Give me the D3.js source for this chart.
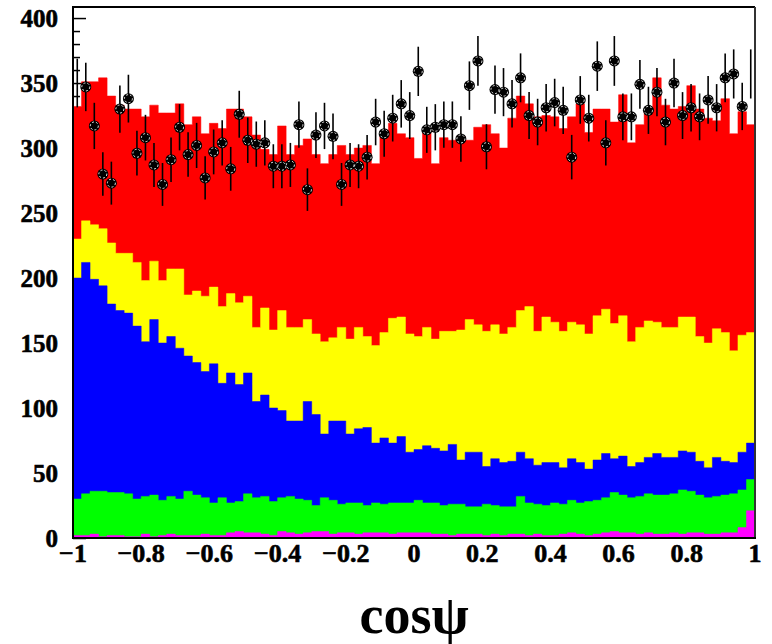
<!DOCTYPE html>
<html>
<head>
<meta charset="utf-8">
<script src="https://cdn.jsdelivr.net/npm/d3@7"></script>
<style>
  body { margin: 0; background: #fff; }
  text { font-family: "Liberation Serif", "DejaVu Serif", serif; font-weight: bold; fill: #000; }
</style>
</head>
<body>
<div id="chart"></div>
<script>
var w = 772;
var h = 644;
var frame = { left: 73, right: 755, top: 7, bottom: 538 };

// cosψ histogram, 80 bins from -1 to 1
var nBins = 80;
var xTicks = [-1, -0.8, -0.6, -0.4, -0.2, 0, 0.2, 0.4, 0.6, 0.8, 1];
var yTicks = [0, 50, 100, 150, 200, 250, 300, 350, 400];

// stacked histogram tops (each one includes the layers below it)
var redTop = [332, 351, 351, 354, 340, 333, 330, 330, 324, 333, 327, 327, 334, 318, 324, 311, 319, 315, 330, 330,
  324, 310, 299, 295, 317, 295, 302, 307, 295, 288, 295, 302, 295, 300, 302, 288, 312, 319, 311, 308,
  292, 314, 288, 308, 306, 309, 306, 316, 318, 311, 300, 323, 340, 334, 324, 325, 324, 315, 324, 334,
  312, 330, 330, 320, 341, 304, 318, 329, 354, 333, 330, 332, 348, 330, 323, 321, 338, 311, 328, 318];
var yellowTop = [230, 244, 241, 238, 227, 219, 219, 212, 198, 213, 198, 207, 207, 187, 190, 186, 193, 178, 188, 181,
  186, 162, 177, 160, 175, 162, 162, 168, 157, 151, 154, 162, 153, 162, 155, 148, 158, 169, 170, 157,
  155, 162, 153, 159, 159, 160, 168, 164, 159, 164, 157, 162, 175, 178, 159, 170, 166, 159, 166, 164,
  157, 171, 176, 165, 171, 151, 162, 167, 166, 162, 162, 170, 170, 155, 150, 161, 158, 144, 156, 158];
var blueTop = [200, 212, 199, 194, 180, 175, 173, 163, 151, 168, 150, 155, 146, 140, 135, 128, 134, 119, 127, 118,
  127, 105, 110, 100, 98, 90, 90, 105, 95, 80, 90, 90, 80, 84, 85, 73, 77, 73, 78, 66,
  68, 71, 69, 67, 72, 60, 66, 66, 55, 61, 58, 59, 66, 61, 56, 58, 58, 54, 61, 58,
  53, 60, 65, 61, 63, 55, 58, 62, 65, 62, 62, 67, 66, 59, 54, 62, 59, 58, 66, 73];
var greenTop = [30, 34, 36, 36, 35, 35, 34, 30, 32, 33, 29, 32, 30, 36, 33, 31, 27, 31, 27, 28,
  34, 31, 32, 28, 31, 32, 30, 29, 25, 31, 29, 26, 27, 27, 25, 27, 26, 27, 27, 27,
  29, 27, 27, 25, 26, 26, 24, 24, 26, 25, 24, 24, 32, 27, 26, 25, 27, 26, 29, 27,
  28, 29, 31, 35, 33, 31, 32, 34, 33, 33, 34, 37, 36, 33, 31, 32, 33, 34, 37, 45];
var magentaTop = [2, 2, 3, 1, 2, 2, 1, 1, 3, 1, 2, 3, 2, 2, 2, 3, 2, 2, 4, 5,
  4, 4, 3, 2, 5, 4, 3, 4, 5, 5, 3, 4, 4, 3, 4, 4, 4, 3, 4, 4,
  4, 4, 3, 3, 2, 3, 3, 3, 2, 3, 2, 3, 3, 2, 3, 2, 2, 3, 4, 3,
  2, 3, 4, 5, 4, 4, 3, 4, 3, 3, 4, 3, 4, 4, 3, 3, 4, 4, 8, 21];

// data points
var dataCounts = [350, 347, 317, 280, 273, 330, 338, 296, 308, 287, 272, 291, 316, 295, 302, 277, 297, 304, 284, 326,
  306, 303, 304, 286, 286, 287, 318, 268, 310, 317, 309, 272, 287, 286, 293, 320, 311, 323, 334, 325,
  359, 314, 316, 318, 318, 307, 348, 367, 301, 345, 343, 334, 354, 325, 320, 331, 335, 329, 293, 337,
  323, 363, 304, 367, 324, 324, 349, 329, 343, 320, 350, 325, 331, 324, 337, 331, 354, 357, 332, 357];

var layers = [
  { values: redTop, color: "#ff0000" },
  { values: yellowTop, color: "#ffff00" },
  { values: blueTop, color: "#0000ff" },
  { values: greenTop, color: "#00ff00" },
  { values: magentaTop, color: "#ff00ff" }
];

var svg = d3.select("#chart")
  .append("svg")
  .attr("width", w)
  .attr("height", h);

svg.append("rect").attr("width", w).attr("height", h).attr("fill", "#fff");

var x = d3.scaleLinear().domain([-1, 1]).range([frame.left, frame.right]);
var y = d3.scaleLinear().domain([0, 408.5]).range([frame.bottom, frame.top]);
var binW = 2 / nBins;

svg.append("defs").append("clipPath").attr("id", "frameClip")
  .append("rect")
  .attr("x", frame.left).attr("y", frame.top)
  .attr("width", frame.right - frame.left).attr("height", frame.bottom - frame.top);

// y axis ticks pointing into the frame (mostly hidden by the stack)
var yAxis = d3.axisRight(y)
  .tickValues(d3.range(0, 401, 10))
  .tickSize(7)
  .tickFormat("");
var yAxisG = svg.append("g")
  .attr("transform", "translate(" + frame.left + ",0)")
  .call(yAxis);
yAxisG.select(".domain").remove();
yAxisG.selectAll(".tick line")
  .attr("stroke", "#000")
  .attr("stroke-width", 1.5)
  .attr("x2", function (d) { return d % 50 === 0 ? 13 : 7; });

// stacked histogram
function stepData(vals) {
  var pts = vals.map(function (v, i) { return { x: -1 + i * binW, v: v }; });
  pts.push({ x: 1, v: vals[vals.length - 1] });
  return pts;
}

var area = d3.area()
  .curve(d3.curveStepAfter)
  .x(function (d) { return x(d.x); })
  .y0(y(0))
  .y1(function (d) { return y(d.v); });

svg.append("g")
  .attr("clip-path", "url(#frameClip)")
  .selectAll("path")
  .data(layers)
  .enter()
  .append("path")
  .attr("d", function (d) { return area(stepData(d.values)); })
  .attr("fill", function (d) { return d.color; })
  .attr("stroke", function (d) { return d.color; })
  .attr("stroke-width", 0.5);

// frame
svg.append("line")
  .attr("x1", frame.left).attr("x2", frame.right)
  .attr("y1", frame.top).attr("y2", frame.top)
  .attr("stroke", "#000").attr("stroke-width", 2);
svg.append("line")
  .attr("x1", frame.right).attr("x2", frame.right)
  .attr("y1", frame.top).attr("y2", frame.bottom)
  .attr("stroke", "#333").attr("stroke-width", 2);
svg.append("line")
  .attr("x1", frame.left).attr("x2", frame.left)
  .attr("y1", frame.top - 1).attr("y2", frame.bottom + 1)
  .attr("stroke", "#000").attr("stroke-width", 2);
svg.append("line")
  .attr("x1", frame.left - 1).attr("x2", frame.right + 1)
  .attr("y1", frame.bottom).attr("y2", frame.bottom)
  .attr("stroke", "#000").attr("stroke-width", 2);

// tick labels
svg.append("g")
  .selectAll("text")
  .data(yTicks)
  .enter()
  .append("text")
  .attr("x", 58)
  .attr("y", function (d) { return y(d); })
  .attr("dy", "0.34em")
  .attr("text-anchor", "end")
  .style("font-size", "25px")
  .style("stroke", "#000")
  .style("stroke-width", 0.6)
  .text(function (d) { return d; });

svg.append("g")
  .selectAll("text")
  .data(xTicks)
  .enter()
  .append("text")
  .attr("x", function (d) { return x(d); })
  .attr("y", 562)
  .attr("text-anchor", "middle")
  .style("font-size", "26px")
  .style("stroke", "#000")
  .style("stroke-width", 0.6)
  .text(function (d) { return d < 0 ? "\u2212" + Math.abs(d) : d; });

svg.append("text")
  .attr("x", x(0))
  .attr("y", 633)
  .attr("text-anchor", "middle")
  .style("font-size", "54px")
  .text("cos\u03c8");

// data points with errors
var pts = dataCounts.map(function (v, i) { return { x: -1 + (i + 0.5) * binW, v: v }; });
var markR = 5.5;

var dataG = svg.append("g").attr("clip-path", "url(#frameClip)");
dataG.selectAll("line.err")
  .data(pts)
  .enter()
  .append("line")
  .attr("class", "err")
  .attr("x1", function (d) { return x(d.x); })
  .attr("x2", function (d) { return x(d.x); })
  .attr("y1", function (d) { return y(d.v - Math.sqrt(d.v)); })
  .attr("y2", function (d) { return y(d.v + Math.sqrt(d.v)); })
  .attr("stroke", "#000")
  .attr("stroke-width", 1.6);

// markers that fit inside the frame
var inside = pts.filter(function (d) {
  return x(d.x) - markR >= frame.left && x(d.x) + markR <= frame.right;
});
dataG.selectAll("circle.mk")
  .data(inside)
  .enter()
  .append("circle")
  .attr("class", "mk")
  .attr("cx", function (d) { return x(d.x); })
  .attr("cy", function (d) { return y(d.v); })
  .attr("r", markR)
  .attr("fill", "#000");
dataG.selectAll("circle.ring")
  .data(inside)
  .enter()
  .append("circle")
  .attr("class", "ring")
  .attr("cx", function (d) { return x(d.x); })
  .attr("cy", function (d) { return y(d.v); })
  .attr("r", 4)
  .attr("fill", "none")
  .attr("stroke", "#fff")
  .attr("stroke-width", 0.9)
  .attr("stroke-dasharray", "2 2");
</script>
</body>
</html>
